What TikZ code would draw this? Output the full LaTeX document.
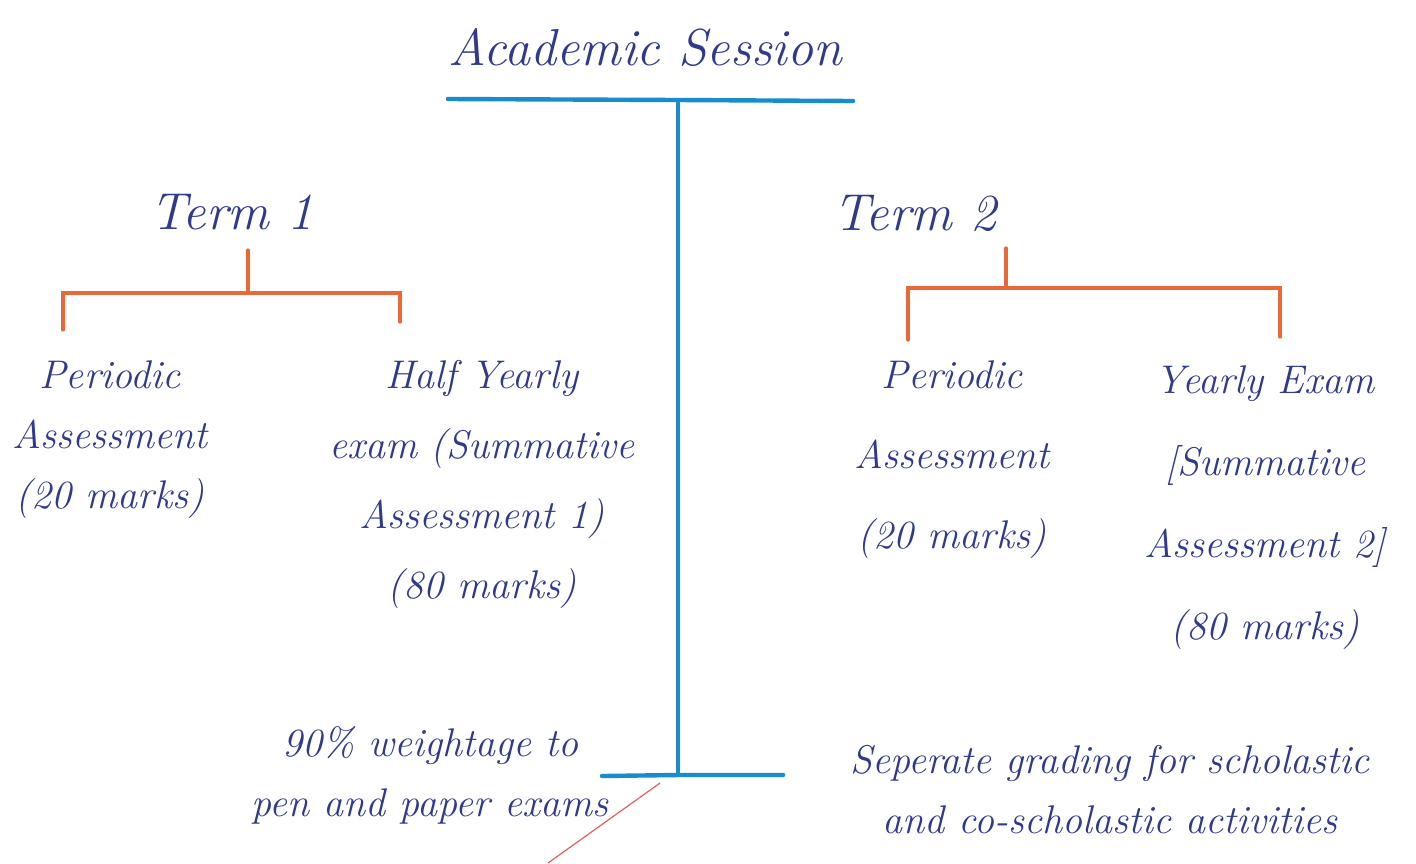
\documentclass[tikz,border=0pt]{standalone}
\usepackage{xcolor}
\usepackage{tikz}
\usetikzlibrary{positioning,calc}
\definecolor{ink}{RGB}{48,58,140}
\definecolor{pen}{RGB}{25,140,205}
\definecolor{marker}{RGB}{232,105,55}
\definecolor{tick}{RGB}{222,95,95}

\begin{document}
\begin{tikzpicture}[x=0.5pt,y=-0.5pt,
    heading/.style={text=ink, font=\fontsize{26}{30}\selectfont\itshape},
    entry/.style={text=ink, align=center, font=\fontsize{20}{#1}\selectfont\itshape},
    entry/.default=32,
    trunk/.style={pen, line width=2.2pt, line cap=round},
    branch/.style={marker, line width=1.6pt, line cap=round}]
    \useasboundingbox (0,0) rectangle (1416,863);

    % session and its bar
    \node[heading] (session) at (645,47) {Academic Session};
    \coordinate (barL) at (448,99);
    \coordinate (barM) at (678,100);
    \coordinate (barR) at (853,101);
    \coordinate (footM) at (678,775);
    \coordinate (footL) at (602,776);
    \coordinate (footR) at (783,775);
    \draw[trunk] (barL) -- (barM) -- (barR);
    \draw[trunk] (barM) -- (footM);
    \draw[trunk] (footL) -- (footM) -- (footR);

    % term 1
    \node[heading] (term1) at (232,212) {Term 1};
    \coordinate (t1top) at (248,250);
    \coordinate (t1mid) at (248,293);
    \coordinate (t1L) at (63,293);
    \coordinate (t1Lend) at (63,330);
    \coordinate (t1R) at (400,293);
    \coordinate (t1Rend) at (400,322);
    \draw[branch] (t1top) -- (t1mid);
    \draw[branch] (t1Lend) -- (t1L) -- (t1R) -- (t1Rend);

    \node[entry=30] (pa1) at (110,440) {Periodic\\Assessment\\(20 marks)};
    \node[entry=35] (hy) at (482,484) {Half Yearly\\exam (Summative\\Assessment 1)\\(80 marks)};

    % term 2
    \node[heading] (term2) at (915,213) {Term 2};
    \coordinate (t2top) at (1006,248);
    \coordinate (t2mid) at (1006,288);
    \coordinate (t2L) at (908,288);
    \coordinate (t2Lend) at (908,340);
    \coordinate (t2R) at (1280,288);
    \coordinate (t2Rend) at (1280,337);
    \draw[branch] (t2top) -- (t2mid);
    \draw[branch] (t2Lend) -- (t2L) -- (t2R) -- (t2Rend);

    \node[entry=40] (pa2) at (952,460) {Periodic\\Assessment\\(20 marks)};
    \node[entry=41] (ye) at (1265,508) {Yearly Exam\\{[}Summative\\Assessment 2{]}\\(80 marks)};

    % notes at the foot
    \node[entry=30] (weight) at (430,775) {90\% weightage to\\pen and paper exams};
    \node[entry=30] (grading) at (1110,790) {Seperate grading for scholastic\\and co-scholastic activities};

    \coordinate (tickA) at (660,783);
    \coordinate (tickB) at (548,863);
    \draw[tick, line width=0.6pt] (tickA) -- (tickB);
\end{tikzpicture}
\end{document}
